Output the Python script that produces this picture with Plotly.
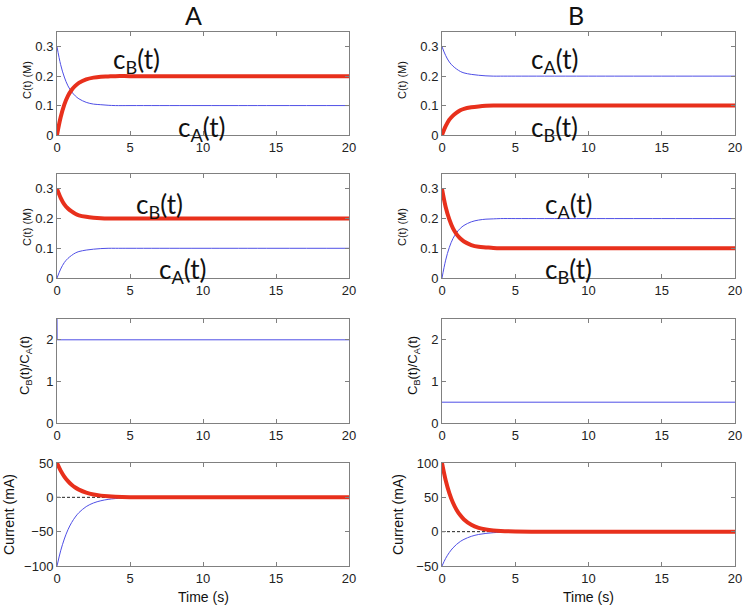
"""Concentracoes, razao e corrente para dois casos (A e B)."""

import plotly.graph_objects as go
from plotly.subplots import make_subplots

W, H = 745, 608

RED = "#e8301c"
BLUE = "#4f4fe6"
FRAME = "#808080"

# tempos (s)
t = [0, 0.25, 0.5, 0.75, 1, 1.25, 1.5, 2, 2.5, 3, 3.5, 4, 5, 7, 10, 15, 20]

# linha 1 - concentracoes (M)
a1_cB = [0, 0.06, 0.103, 0.133, 0.153, 0.167, 0.177, 0.189, 0.195, 0.198, 0.199, 0.2, 0.2, 0.2, 0.2, 0.2, 0.2]
a1_cA = [0.3, 0.239, 0.197, 0.167, 0.147, 0.133, 0.123, 0.111, 0.105, 0.103, 0.101, 0.1, 0.1, 0.1, 0.1, 0.1, 0.1]
b1_cA = [0.3, 0.27, 0.248, 0.234, 0.224, 0.216, 0.211, 0.206, 0.203, 0.201, 0.2, 0.2, 0.2, 0.2, 0.2, 0.2, 0.2]
b1_cB = [0, 0.03, 0.052, 0.066, 0.076, 0.084, 0.089, 0.094, 0.097, 0.099, 0.1, 0.1, 0.1, 0.1, 0.1, 0.1, 0.1]

# linha 2 - concentracoes (M)
a2_cB = [0.3, 0.27, 0.248, 0.234, 0.224, 0.216, 0.211, 0.206, 0.203, 0.201, 0.2, 0.2, 0.2, 0.2, 0.2, 0.2, 0.2]
a2_cA = [0, 0.03, 0.052, 0.066, 0.076, 0.084, 0.089, 0.094, 0.097, 0.099, 0.1, 0.1, 0.1, 0.1, 0.1, 0.1, 0.1]
b2_cB = [0.3, 0.239, 0.197, 0.167, 0.147, 0.133, 0.123, 0.111, 0.105, 0.103, 0.101, 0.1, 0.1, 0.1, 0.1, 0.1, 0.1]
b2_cA = [0, 0.06, 0.103, 0.133, 0.153, 0.167, 0.177, 0.189, 0.195, 0.198, 0.199, 0.2, 0.2, 0.2, 0.2, 0.2, 0.2]

# linha 3 - razao cB/cA
ratio_a_t = [0, 0.01, 20]
ratio_a = [2.6, 2.0, 2.0]
ratio_b_t = [0, 20]
ratio_b = [0.5, 0.5]

# linha 4 - corrente (mA)
a4_red = [50, 38.9, 30.3, 23.6, 18.4, 14.3, 11.2, 6.8, 4.1, 2.5, 1.5, 0.9, 0.3, 0, 0, 0, 0]
a4_blue = [-100, -77.9, -60.7, -47.2, -36.8, -28.7, -22.3, -13.5, -8.2, -5.0, -3.0, -1.8, -0.7, -0.1, 0, 0, 0]
b4_red = [100, 75, 56.3, 42.2, 31.7, 23.8, 17.8, 10.0, 5.6, 3.2, 1.8, 1.0, 0.3, 0, 0, 0, 0]
b4_blue = [-50, -38.9, -30.3, -23.6, -18.4, -14.3, -11.2, -6.8, -4.1, -2.5, -1.5, -0.9, -0.3, 0, 0, 0, 0]
zero_t = [0, 20]
zero_y = [0, 0]


def thin(x, y, shape="spline"):
    return go.Scatter(x=x, y=y, mode="lines", line=dict(color=BLUE, width=1, shape=shape),
                      showlegend=False, hoverinfo="skip")


def thick(x, y):
    return go.Scatter(x=x, y=y, mode="lines", line=dict(color=RED, width=4, shape="spline"),
                      showlegend=False, hoverinfo="skip")


fig = make_subplots(rows=4, cols=2)

fig.add_trace(thin(t, a1_cA), 1, 1)
fig.add_trace(thick(t, a1_cB), 1, 1)
fig.add_trace(thin(t, b1_cA), 1, 2)
fig.add_trace(thick(t, b1_cB), 1, 2)

fig.add_trace(thin(t, a2_cA), 2, 1)
fig.add_trace(thick(t, a2_cB), 2, 1)
fig.add_trace(thin(t, b2_cA), 2, 2)
fig.add_trace(thick(t, b2_cB), 2, 2)

fig.add_trace(thin(ratio_a_t, ratio_a, "linear"), 3, 1)
fig.add_trace(thin(ratio_b_t, ratio_b, "linear"), 3, 2)

for col, red, blue in [(1, a4_red, a4_blue), (2, b4_red, b4_blue)]:
    fig.add_trace(go.Scatter(x=zero_t, y=zero_y, mode="lines",
                             line=dict(color="#222", width=1, dash="3px,2px"),
                             showlegend=False, hoverinfo="skip"), 4, col)
    fig.add_trace(thin(t, blue), 4, col)
    fig.add_trace(thick(t, red), 4, col)

# dominios em pixels da figura original
x_dom = [(57, 349), (442, 735)]
y_dom = [(32, 135), (174, 278), (319, 423), (463, 566)]
y_rng = [
    ([0, 0.35], [0, 0.35]),
    ([0, 0.35], [0, 0.35]),
    ([0, 2.5], [0, 2.5]),
    ([-100, 50], [-50, 100]),
]
y_ticks = [
    [0, 0.1, 0.2, 0.3],
    [0, 0.1, 0.2, 0.3],
    [0, 1, 2],
    [-100, -50, 0, 50, 100],
]

tick_font = dict(family="Liberation Sans, Arial", size=13, color="#222")
axis_style = dict(showline=True, linecolor=FRAME, linewidth=1, mirror="ticks",
                  ticks="inside", ticklen=4, tickcolor=FRAME, showgrid=False,
                  zeroline=False, tickfont=tick_font)

for r in range(4):
    for c in range(2):
        n = r * 2 + c + 1
        x0, x1 = x_dom[c]
        y0, y1 = y_dom[r]
        fig.layout[f"xaxis{n}"].update(
            domain=[x0 / W, x1 / W], range=[0, 20], tickvals=[0, 5, 10, 15, 20], **axis_style)
        fig.layout[f"yaxis{n}"].update(
            domain=[1 - y1 / H, 1 - y0 / H], range=y_rng[r][c], tickvals=y_ticks[r], **axis_style)


def px(x, y):
    return x / W, 1 - y / H


annotations = []


def label(text, x, y, size, family="Lato", angle=0, xanchor="center"):
    xp, yp = px(x, y)
    annotations.append(dict(text=text, x=xp, y=yp, xref="paper", yref="paper",
                            showarrow=False, textangle=angle, xanchor=xanchor,
                            yanchor="middle", font=dict(family=family, size=size, color="#111")))


# titulos das colunas
label("A", 193, 15, 25)
label("B", 576, 15, 25)

# rotulos das curvas
label("c<sub>B</sub>(t)", 111, 61, 26, xanchor="left")
label("c<sub>A</sub>(t)", 176, 128, 26, xanchor="left")
label("c<sub>A</sub>(t)", 529, 61, 26, xanchor="left")
label("c<sub>B</sub>(t)", 529, 128, 26, xanchor="left")
label("c<sub>B</sub>(t)", 134, 205, 26, xanchor="left")
label("c<sub>A</sub>(t)", 157, 270, 26, xanchor="left")
label("c<sub>A</sub>(t)", 543, 205, 26, xanchor="left")
label("c<sub>B</sub>(t)", 543, 270, 26, xanchor="left")

# titulos dos eixos
sans = "Liberation Sans, Arial"
label("C(t) (M)", 27, 80, 11, sans, -90)
label("C(t) (M)", 402, 80, 11, sans, -90)
label("C(t) (M)", 27, 227, 11, sans, -90)
label("C(t) (M)", 402, 227, 11, sans, -90)
label("C<sub>B</sub>(t)/C<sub>A</sub>(t)", 25, 366, 13, sans, -90)
label("C<sub>B</sub>(t)/C<sub>A</sub>(t)", 413, 366, 13, sans, -90)
label("Current (mA)", 9, 515, 14, sans, -90)
label("Current (mA)", 398, 515, 14, sans, -90)
label("Time (s)", 203, 597, 14, sans)
label("Time (s)", 588, 597, 14, sans)

fig.update_layout(
    width=W,
    height=H,
    margin=dict(l=0, r=0, t=0, b=0, autoexpand=False),
    paper_bgcolor="white",
    plot_bgcolor="white",
    annotations=annotations,
    showlegend=False,
)

# sem a margem padrao do body, a figura fica alinhada ao canto da janela
fig.write_html("out.html", config={"displayModeBar": False},
               post_script="document.body.style.margin = '0';")
